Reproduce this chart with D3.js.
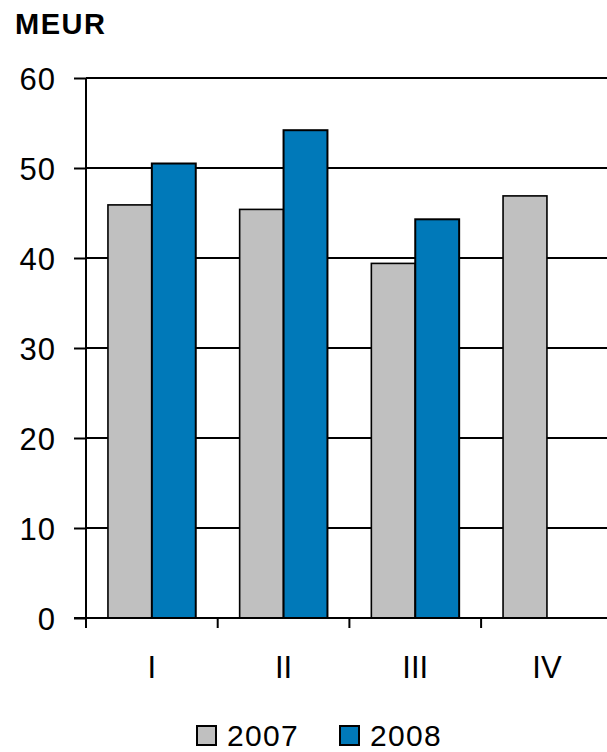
<!DOCTYPE html>
<html>
<head>
<meta charset="utf-8">
<script src="https://cdn.jsdelivr.net/npm/d3@7"></script>
<style>
  html, body { margin: 0; padding: 0; background: #fff; }
  svg { display: block; font-family: "Liberation Sans", Arial, Helvetica, sans-serif; }
</style>
</head>
<body>
<svg id="chart" width="607" height="752"></svg>
<script>
const categories = ["I", "II", "III", "IV"];
const seriesNames = ["2007", "2008"];
const values2007 = [45.9, 45.4, 39.4, 46.9];
const values2008 = [50.5, 54.2, 44.3, null];
const yTicks = [0, 10, 20, 30, 40, 50, 60];
const unitLabel = "MEUR";

const colors = { "2007": "#c0c0c0", "2008": "#0079b9" };
const seriesValues = { "2007": values2007, "2008": values2008 };

(function () {
const svg = d3.select("#chart");
const mLeft = 86, mTop = 78, mBottom = 618, step = 131.7;
const mRight = mLeft + step * categories.length;

const y = d3.scaleLinear().domain([0, 60]).range([mBottom, mTop]);
const x0 = d3.scaleBand().domain(categories).range([mLeft, mRight]).paddingInner(0).paddingOuter(0);
const x1 = d3.scaleBand().domain(seriesNames).range([0, x0.bandwidth()]).paddingInner(0).paddingOuter(0.5);

// gridlines
svg.append("g").selectAll("line").data(yTicks.filter(d => d > 0)).join("line")
  .attr("x1", mLeft).attr("x2", mRight)
  .attr("y1", d => y(d)).attr("y2", d => y(d))
  .attr("stroke", "#000").attr("stroke-width", 2);

// bars
const data = [];
categories.forEach((c, i) => seriesNames.forEach(s => {
  const v = seriesValues[s][i];
  if (v != null) data.push({ c, s, v });
}));
svg.append("g").selectAll("rect").data(data).join("rect")
  .attr("x", d => x0(d.c) + x1(d.s))
  .attr("width", x1.bandwidth())
  .attr("y", d => y(d.v))
  .attr("height", d => y(0) - y(d.v))
  .attr("fill", d => colors[d.s])
  .attr("stroke", "#000")
  .attr("stroke-width", d => d.s === "2007" ? 1.6 : 2);

// y axis
const yAxis = d3.axisLeft(y).tickValues(yTicks).tickSize(12).tickPadding(18).tickFormat(d3.format("d"));
const gy = svg.append("g").attr("transform", `translate(${mLeft},0)`).call(yAxis);
gy.select(".domain").attr("stroke", "#000").attr("stroke-width", 2).attr("d", `M0,${mTop}V${mBottom}`);
gy.selectAll(".tick line").attr("stroke", "#000").attr("stroke-width", 2);
gy.selectAll(".tick text").attr("font-size", 31).attr("fill", "#000")
  .attr("font-family", "'Liberation Sans', Arial, sans-serif").attr("letter-spacing", 1)
  .attr("dy", "0.36em");

// x axis
const xAxis = d3.axisBottom(x0).tickSize(0).tickPadding(0);
const gx = svg.append("g").attr("transform", `translate(0,${mBottom})`).call(xAxis);
gx.select(".domain").attr("stroke", "#000").attr("stroke-width", 2).attr("d", `M${mLeft - 12},0H${mRight}`);
gx.selectAll(".tick text").attr("font-size", 31).attr("fill", "#000")
  .attr("font-family", "'Liberation Sans', Arial, sans-serif")
  .attr("y", 60).attr("dy", 0);
// boundary ticks
svg.append("g").selectAll("line").data(categories).join("line")
  .attr("x1", d => x0(d)).attr("x2", d => x0(d))
  .attr("y1", mBottom).attr("y2", mBottom + 10)
  .attr("stroke", "#000").attr("stroke-width", 2);

// unit label
svg.append("text").attr("x", 15).attr("y", 34).text(unitLabel)
  .attr("font-size", 29).attr("font-weight", "bold").attr("letter-spacing", 1.5).attr("fill", "#000");

// legend
const legendItems = [{ s: "2007", x: 196 }, { s: "2008", x: 339 }];
const lg = svg.append("g").selectAll("g").data(legendItems).join("g")
  .attr("transform", d => `translate(${d.x},726)`);
lg.append("rect").attr("x", 1).attr("y", 0).attr("width", 19).attr("height", 19)
  .attr("fill", d => colors[d.s]).attr("stroke", "#000").attr("stroke-width", 2);
lg.append("text").attr("x", 31).attr("y", 19.5).text(d => d.s)
  .attr("font-size", 30).attr("letter-spacing", 1.3).attr("fill", "#000");
})();
</script>
</body>
</html>
